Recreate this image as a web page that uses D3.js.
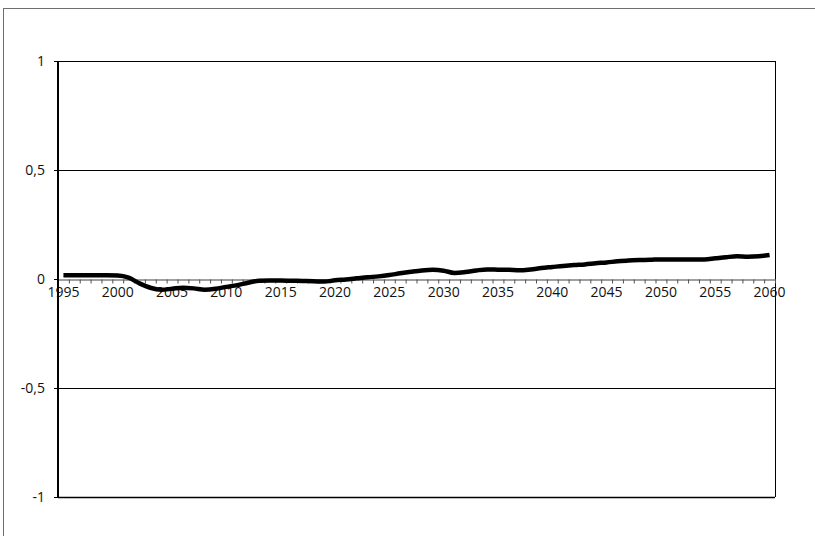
<!DOCTYPE html>
<html>
<head>
<meta charset="utf-8">
<script src="https://cdn.jsdelivr.net/npm/d3@7"></script>
<style>
  body { margin: 0; background: #fff; }
  svg { display: block; }
</style>
</head>
<body>
<div id="chart"></div>
<script>
// Data
const years = d3.range(1995, 2061);
const values = [
    0.017, 0.017, 0.017, 0.017, 0.017, 0.016,          // 1995-2000
    0.006, -0.020, -0.040, -0.049, -0.045, -0.040,     // 2001-2006
    -0.043, -0.049, -0.045, -0.036, -0.028, -0.017,    // 2007-2012
    -0.008, -0.007, -0.007, -0.008, -0.009, -0.010,    // 2013-2018
    -0.012, -0.006, -0.002, 0.003, 0.008, 0.012,       // 2019-2024
    0.018, 0.026, 0.033, 0.039, 0.042, 0.038,          // 2025-2030
    0.028, 0.032, 0.039, 0.044, 0.043, 0.042,          // 2031-2036
    0.040, 0.044, 0.050, 0.055, 0.060, 0.064,          // 2037-2042
    0.067, 0.072, 0.076, 0.081, 0.085, 0.087,          // 2043-2048
    0.088, 0.090, 0.090, 0.090, 0.090, 0.090,          // 2049-2054
    0.095, 0.100, 0.104, 0.102, 0.104, 0.110           // 2055-2060
];
const yTicks = [1, 0.5, 0, -0.5, -1];
const yLabels = ['1', '0,5', '0', '-0,5', '-1'];
const xLabelYears = d3.range(1995, 2061, 5);

const width = 815, height = 536;
const plot = {left: 58, right: 775, top: 61, bottom: 497};

const svg = d3.select('#chart').append('svg')
    .attr('width', width)
    .attr('height', height)
    .attr('font-family', '"Open Sans", sans-serif')
    .attr('font-size', 14);

// Outer chart frame (runs off the page on the right and bottom)
svg.append('rect')
    .attr('x', 3.5)
    .attr('y', 8.5)
    .attr('width', width + 10)
    .attr('height', height + 10)
    .attr('fill', 'none')
    .attr('stroke', '#6e6e6e');

const x = d3.scaleBand()
    .domain(years)
    .range([plot.left, plot.right])
    .padding(0);
const xEdge = d3.scaleLinear()
    .domain([1995, 2061])
    .range([plot.left, plot.right]);
const y = d3.scaleLinear()
    .domain([-1, 1])
    .range([plot.bottom, plot.top]);

// Gridlines
svg.append('g').selectAll('line')
    .data(yTicks.filter(d => d !== 0))
    .enter().append('line')
    .attr('x1', plot.left)
    .attr('x2', plot.right)
    .attr('y1', d => Math.round(y(d)) + 0.5)
    .attr('y2', d => Math.round(y(d)) + 0.5)
    .attr('stroke', 'black')
    .attr('stroke-width', d => d === -1 ? 1.5 : 1);

// Right border of plot area
svg.append('line')
    .attr('x1', plot.right + 0.5)
    .attr('x2', plot.right + 0.5)
    .attr('y1', plot.top)
    .attr('y2', plot.bottom)
    .attr('stroke', 'black');

// Category axis at zero
const xAxis = d3.axisBottom(xEdge)
    .tickValues(d3.range(1996, 2062))
    .tickSize(4)
    .tickSizeOuter(0)
    .tickFormat('');
const xg = svg.append('g')
    .attr('transform', `translate(0, ${Math.round(y(0)) + 0.5})`)
    .call(xAxis);
xg.select('.domain').attr('stroke', '#808080').attr('stroke-width', 1.5);
xg.selectAll('.tick line').attr('stroke', '#505050');

svg.append('g').selectAll('text')
    .data(xLabelYears)
    .enter().append('text')
    .attr('x', d => x(d) + x.bandwidth() / 2)
    .attr('y', y(0) + 18)
    .attr('text-anchor', 'middle')
    .attr('fill', '#111')
    .text(d => d);

// Value axis
svg.append('line')
    .attr('x1', plot.left)
    .attr('x2', plot.left)
    .attr('y1', plot.top)
    .attr('y2', plot.bottom + 1)
    .attr('stroke', 'black')
    .attr('stroke-width', 2);

svg.append('g').selectAll('line')
    .data(yTicks)
    .enter().append('line')
    .attr('x1', plot.left - 4)
    .attr('x2', plot.left)
    .attr('y1', d => Math.round(y(d)) + 0.5)
    .attr('y2', d => Math.round(y(d)) + 0.5)
    .attr('stroke', 'black');

svg.append('g').selectAll('text')
    .data(yTicks)
    .enter().append('text')
    .attr('x', plot.left - 13)
    .attr('y', d => y(d) + 5)
    .attr('text-anchor', 'end')
    .attr('fill', '#111')
    .text((d, i) => yLabels[i]);

// The series
const line = d3.line()
    .x((d, i) => x(years[i]) + x.bandwidth() / 2)
    .y(d => y(d))
    .curve(d3.curveMonotoneX);

svg.append('path')
    .datum(values)
    .attr('d', line)
    .attr('fill', 'none')
    .attr('stroke', 'black')
    .attr('stroke-width', 4.5)
    .attr('stroke-linejoin', 'round');
</script>
</body>
</html>
